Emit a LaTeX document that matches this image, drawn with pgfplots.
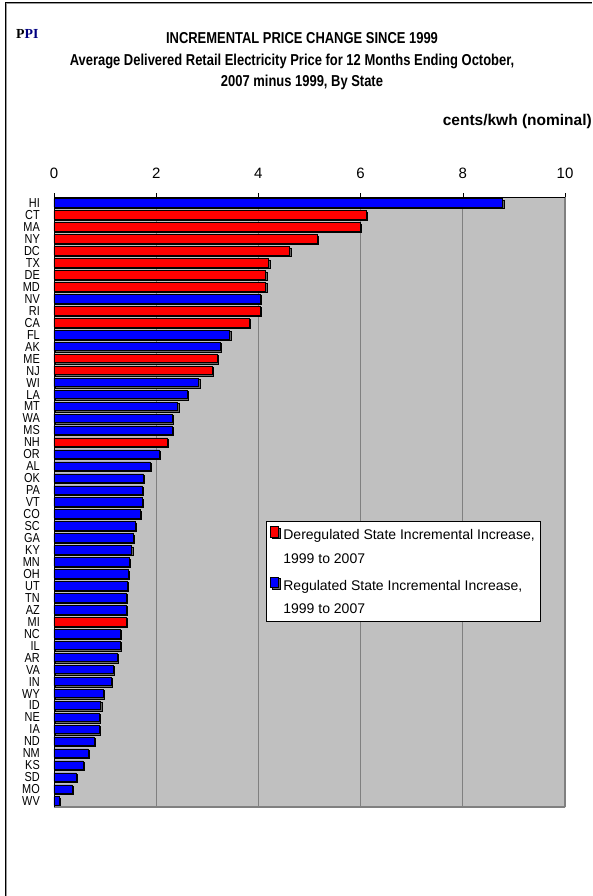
\documentclass[border=0pt]{standalone}
\usepackage{pgfplots}
\pgfplotsset{compat=1.18}
\usepackage{pgfplotstable}
\usetikzlibrary{shadows}
\usepackage{fontspec}
\setmainfont{Liberation Sans}
\newfontfamily\narrowfont[FakeStretch=0.82]{Liberation Sans}
\newfontfamily\statefont[FakeStretch=0.84]{Liberation Sans}
\newfontfamily\ppifont{Liberation Serif}

\definecolor{barred}{HTML}{FF0000}
\definecolor{barblue}{HTML}{0000FF}
\definecolor{plotbg}{HTML}{C0C0C0}
\definecolor{gridgray}{HTML}{808080}
\definecolor{ppinavy}{HTML}{000080}

% value, row (0 = HI at the top)
\pgfplotstableread{
val idx
6.11 1
5.99 2
5.15 3
4.61 4
4.20 5
4.14 6
4.14 7
4.03 9
3.82 10
3.19 13
3.10 14
2.22 20
1.41 35
}\dereg

\pgfplotstableread{
val idx
8.78 0
4.03 8
3.44 11
3.25 12
2.83 15
2.61 16
2.42 17
2.31 18
2.31 19
2.06 21
1.88 22
1.75 23
1.73 24
1.73 25
1.68 26
1.59 27
1.55 28
1.52 29
1.47 30
1.45 31
1.43 32
1.41 33
1.41 34
1.29 36
1.29 37
1.23 38
1.16 39
1.12 40
0.96 41
0.91 42
0.89 43
0.89 44
0.78 45
0.67 46
0.57 47
0.44 48
0.35 49
0.10 50
}\reg

\begin{document}
\begin{tikzpicture}
\useasboundingbox (0pt,0pt) rectangle (592pt,-896pt);
% outer frame (left and top only)
\draw[black!40, line width=1.2pt] (6.5pt,-896pt) -- (6.5pt,-3.5pt) -- (592pt,-3.5pt);
\draw[black, line width=0.8pt] (5pt,-896pt) -- (5pt,-2pt) -- (592pt,-2pt);

\node[anchor=west, inner sep=0pt] at (16pt,-34pt)
  {\ppifont\bfseries\fontsize{13.8}{13.8}\selectfont P\textcolor{ppinavy}{PI}};
\node[inner sep=0pt] at (302pt,-38pt)
  {\narrowfont\bfseries\fontsize{15.8}{15.8}\selectfont INCREMENTAL PRICE CHANGE SINCE 1999};
\node[inner sep=0pt] at (292pt,-61pt)
  {\narrowfont\bfseries\fontsize{15.8}{15.8}\selectfont Average Delivered Retail Electricity Price for 12 Months Ending October,};
\node[inner sep=0pt] at (302pt,-82pt)
  {\narrowfont\bfseries\fontsize{15.8}{15.8}\selectfont 2007 minus 1999, By State};
\node[anchor=east, inner sep=0pt] at (592pt,-121pt)
  {\bfseries\fontsize{15.5}{15.5}\selectfont cents/kwh (nominal)};

\begin{axis}[
    at={(54pt,-807pt)}, anchor=south west,
    scale only axis, width=511pt, height=610pt,
    xmin=0, xmax=10,
    ymin=-0.5, ymax=50.5,
    y dir=reverse,
    xbar, bar width=8.5pt, bar shift=0pt,
    axis background/.style={fill=plotbg},
    axis line style={draw=none},
    xmajorgrids,
    major grid style={draw=gridgray, line width=0.8pt},
    xtick={0,2,4,6,8,10},
    xtick pos=right, xticklabel pos=right,
    xtick align=outside,
    major tick length=4pt,
    xtick style={black, line width=0.6pt},
    xticklabel shift=14pt,
    /pgf/number format/assume math mode=true,
    xticklabel style={font=\fontsize{15}{15}\selectfont, inner sep=0pt},
    ytick={0,...,50},
    yticklabels={HI,CT,MA,NY,DC,TX,DE,MD,NV,RI,CA,FL,AK,ME,NJ,WI,LA,MT,WA,MS,NH,OR,AL,OK,PA,VT,CO,SC,GA,KY,MN,OH,UT,TN,AZ,MI,NC,IL,AR,VA,IN,WY,ID,NE,IA,ND,NM,KS,SD,MO,WV},
    ytick style={draw=none},
    yticklabel style={font=\statefont\fontsize{13}{12}\selectfont, inner sep=0pt,
        text height=9.3pt, text depth=0pt, xshift=-10pt},
    legend style={at={(0.415,0.469)}, anchor=north west, draw=black, fill=white,
        line width=0.8pt, inner xsep=4pt, inner ysep=5pt,
        font=\fontsize{14}{14}\selectfont, row sep=10.7pt, column sep=2.5pt,
        nodes={inner ysep=0pt, text height=10pt, text depth=3pt}},
    legend cell align=left,
]
\addplot[fill=barred, draw=black, line width=0.6pt,
    drop shadow={shadow xshift=1.3pt, shadow yshift=-1.3pt, fill=black!60, opacity=1},
    legend image code/.code={\draw[fill=barred, draw=black, line width=0.4pt] (0pt,-1pt) rectangle (8pt,9.5pt);}]
    table[x=val, y=idx] {\dereg};
\addlegendentry{Deregulated State Incremental Increase,}
\addlegendimage{empty legend}
\addlegendentry{1999 to 2007}
\addplot[fill=barblue, draw=black, line width=0.6pt,
    drop shadow={shadow xshift=1.3pt, shadow yshift=-1.3pt, fill=black!60, opacity=1},
    legend image code/.code={\draw[fill=barblue, draw=black, line width=0.4pt] (0pt,-1pt) rectangle (8pt,9.5pt);}]
    table[x=val, y=idx] {\reg};
\addlegendentry{Regulated State Incremental Increase,}
\addlegendimage{empty legend}
\addlegendentry{1999 to 2007}
\draw[gridgray, line width=1.4pt] (rel axis cs:0,0) -- (rel axis cs:1,0) -- (rel axis cs:1,1);
\draw[black, line width=0.8pt] (rel axis cs:0,0) -- (rel axis cs:0,1) -- (rel axis cs:1,1);
\end{axis}
\end{tikzpicture}
\end{document}
